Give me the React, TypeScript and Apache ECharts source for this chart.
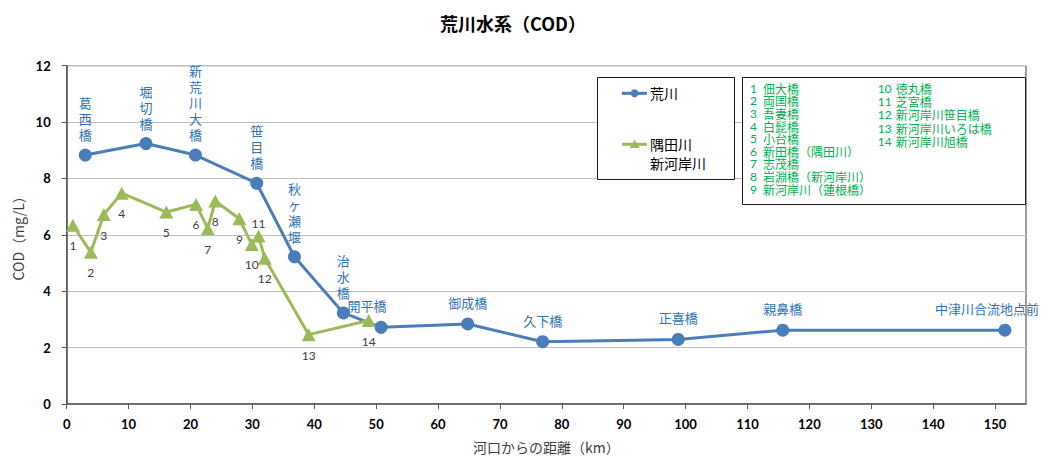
import React, { useEffect, useRef } from "react";
import * as echarts from "echarts";

const titleText = "荒川水系（COD）";
const yAxisName = "COD（mg/L）";
const xAxisName = "河口からの距離（km）";

const arakawaName = "荒川";
const sumidaName = "隅田川\n新河岸川";

const arakawaNames = ["葛西橋", "堀切橋", "新荒川大橋", "笹目橋", "秋ヶ瀬堰", "治水橋", "開平橋", "御成橋", "久下橋", "正喜橋", "親鼻橋", "中津川合流地点前"];
const arakawaKm = [3.0, 12.8, 20.8, 30.7, 36.8, 44.7, 50.8, 64.8, 76.9, 98.8, 115.7, 151.6];
const arakawaCod = [8.83, 9.24, 8.83, 7.83, 5.22, 3.23, 2.72, 2.84, 2.21, 2.29, 2.62, 2.62];

const sumidaKm = [1.0, 3.9, 6.0, 8.9, 16.1, 20.9, 22.8, 24.0, 27.9, 29.9, 31.0, 32.0, 39.1, 48.8];
const sumidaCod = [6.34, 5.38, 6.72, 7.48, 6.81, 7.08, 6.22, 7.2, 6.57, 5.66, 5.96, 5.17, 2.46, 2.96];
const sumidaNames = ["佃大橋", "両国橋", "吾妻橋", "白髭橋", "小台橋", "新田橋（隅田川）", "志茂橋", "岩淵橋（新河岸川）", "新河岸川（蓮根橋）", "徳丸橋", "芝宮橋", "新河岸川笹目橋", "新河岸川いろは橋", "新河岸川旭橋"];

const X_MIN = 0;
const X_MAX = 155;
const X_STEP = 10;
const Y_MIN = 0;
const Y_MAX = 12;
const Y_STEP = 2;

const BLUE = "#4a7ebb";
const GREEN = "#9bbb59";
const LABEL_BLUE = "#2f74b5";
const LEGEND_GREEN = "#00b050";
const JP = "'Noto Sans CJK JP', 'Noto Sans', sans-serif";
const NUM = "Lato, 'Liberation Sans', sans-serif";

export default function App() {
  const ref = useRef<HTMLDivElement>(null);

  useEffect(() => {
    if (!ref.current) return;
    const chart = echarts.init(ref.current, undefined, { renderer: "svg" });

    const verticalCount = 6;
    const blueData = arakawaNames.map((n, i) => {
      const vertical = i < verticalCount;
      const item: any = {
        value: [arakawaKm[i], arakawaCod[i]],
        name: n,
        label: {
          show: true,
          position: "top",
          distance: vertical ? 6 : 7,
          formatter: vertical ? n.split("").join("\n") : n,
          lineHeight: 16,
        },
      };
      if (i === 6) item.label.offset = [-14, 0];
      if (i === arakawaNames.length - 1) item.label.offset = [-18, 0];
      return item;
    });

    const greenData = sumidaKm.map((x, i) => {
      const above = i === 10;
      return {
        value: [x, sumidaCod[i]],
        name: String(i + 1),
        label: {
          show: true,
          position: above ? "top" : "bottom",
          distance: above ? 0 : 8,
          formatter: String(i + 1),
        },
      };
    });

    const leftCol = sumidaNames.slice(0, 9);
    const rightCol = sumidaNames.slice(9);

    const option: any = {
      animation: false,
      backgroundColor: "#ffffff",
      title: {
        text: titleText,
        left: 508,
        textAlign: "center",
        top: 9,
        textStyle: { fontFamily: JP, fontSize: 18, fontWeight: "bold", color: "#000" },
      },
      grid: {
        left: 66.7,
        right: 22,
        top: 65.7,
        bottom: 52.3,
        show: true,
        borderColor: "#404040",
        borderWidth: 1,
        backgroundColor: "transparent",
      },
      xAxis: {
        type: "value",
        min: X_MIN,
        max: X_MAX,
        interval: X_STEP,
        name: xAxisName,
        nameLocation: "middle",
        nameGap: 36,
        nameTextStyle: { fontFamily: JP, fontSize: 14, color: "#404040" },
        axisLine: { show: true, onZero: false, lineStyle: { color: "#595959", width: 1.5 } },
        axisTick: { show: true, length: 5, lineStyle: { color: "#595959" } },
        axisLabel: {
          showMaxLabel: false,
          margin: 13,
          fontFamily: NUM,
          fontWeight: "bold",
          fontSize: 13,
          color: "#000",
        },
        splitLine: { show: false },
      },
      yAxis: {
        type: "value",
        min: Y_MIN,
        max: Y_MAX,
        interval: Y_STEP,
        name: yAxisName,
        nameLocation: "middle",
        nameGap: 40,
        nameRotate: 90,
        nameTextStyle: { fontFamily: JP, fontSize: 14, color: "#404040" },
        axisLine: { show: true, lineStyle: { color: "#595959", width: 1.5 } },
        axisTick: { show: true, length: 5, lineStyle: { color: "#595959" } },
        axisLabel: {
          margin: 16,
          fontFamily: NUM,
          fontWeight: "bold",
          fontSize: 13,
          color: "#000",
        },
        splitLine: { show: true, lineStyle: { color: "#bfbfbf", width: 1.2 } },
      },
      series: [
        {
          name: arakawaName,
          type: "line",
          data: blueData,
          symbol: "circle",
          symbolSize: 13,
          lineStyle: { color: BLUE, width: 3 },
          itemStyle: { color: BLUE },
          label: { color: LABEL_BLUE, fontFamily: JP, fontSize: 13 },
          z: 2,
        },
        {
          name: sumidaName,
          type: "line",
          data: greenData,
          symbol: "triangle",
          symbolSize: [14, 13],
          lineStyle: { color: GREEN, width: 3 },
          itemStyle: { color: GREEN },
          label: { color: "#404040", fontFamily: NUM, fontSize: 12 },
          z: 3,
        },
      ],
      graphic: [
        {
          type: "rect",
          shape: { x: 597.5, y: 77.5, width: 137, height: 102 },
          style: { fill: "#fff", stroke: "#1a1a1a", lineWidth: 1 },
          z: 10,
        },
        {
          type: "line",
          shape: { x1: 622, y1: 93.3, x2: 647, y2: 93.3 },
          style: { stroke: BLUE, lineWidth: 3 },
          z: 11,
        },
        {
          type: "circle",
          shape: { cx: 634.5, cy: 93.3, r: 4 },
          style: { fill: BLUE },
          z: 12,
        },
        {
          type: "text",
          x: 650,
          y: 93.3,
          style: { text: arakawaName, fontFamily: JP, fontSize: 14, fill: "#000", textVerticalAlign: "middle" },
          z: 11,
        },
        {
          type: "line",
          shape: { x1: 622, y1: 144.3, x2: 647, y2: 144.3 },
          style: { stroke: GREEN, lineWidth: 3 },
          z: 11,
        },
        {
          type: "polygon",
          shape: { points: [[634.5, 139.8], [639.5, 148], [629.5, 148]] },
          style: { fill: GREEN },
          z: 12,
        },
        {
          type: "text",
          x: 650,
          y: 134.8,
          style: { text: sumidaName, fontFamily: JP, fontSize: 14, lineHeight: 18.7, fill: "#000", textVerticalAlign: "top" },
          z: 11,
        },
        {
          type: "rect",
          shape: { x: 742.5, y: 77.5, width: 283, height: 127 },
          style: { fill: "#fff", stroke: "#1a1a1a", lineWidth: 1 },
          z: 10,
        },
        {
          type: "text",
          x: 750,
          y: 82,
          style: {
            text: leftCol.map((_, i) => String(i + 1)).join("\n"),
            fontFamily: NUM,
            fontSize: 12,
            lineHeight: 12.6,
            fill: LEGEND_GREEN,
            textVerticalAlign: "top",
          },
          z: 11,
        },
        {
          type: "text",
          x: 763,
          y: 82,
          style: {
            text: leftCol.join("\n"),
            fontFamily: JP,
            fontSize: 12,
            lineHeight: 12.6,
            fill: LEGEND_GREEN,
            textVerticalAlign: "top",
          },
          z: 11,
        },
        {
          type: "text",
          x: 877.7,
          y: 81.6,
          style: {
            text: rightCol.map((_, i) => String(i + 10)).join("\n"),
            fontFamily: NUM,
            fontSize: 12,
            lineHeight: 13.3,
            fill: LEGEND_GREEN,
            textVerticalAlign: "top",
          },
          z: 11,
        },
        {
          type: "text",
          x: 895.7,
          y: 81.6,
          style: {
            text: rightCol.join("\n"),
            fontFamily: JP,
            fontSize: 12,
            lineHeight: 13.3,
            fill: LEGEND_GREEN,
            textVerticalAlign: "top",
          },
          z: 11,
        },
      ],
    };

    chart.setOption(option);
    return () => chart.dispose();
  }, []);

  return (
    <div
      ref={ref}
      style={{ position: "fixed", left: 0, top: 0, width: 1048, height: 459, background: "#fff" }}
    />
  );
}
